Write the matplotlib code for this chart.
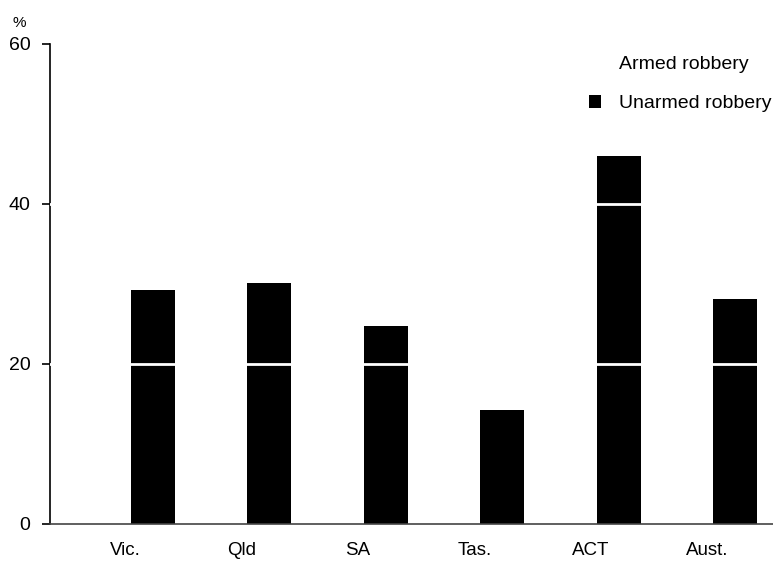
import matplotlib
matplotlib.use("Agg")
import matplotlib.pyplot as plt
from matplotlib.patches import Patch
import numpy as np

plt.rcParams['font.family'] = ['Liberation Sans', 'DejaVu Sans']

categories = ["Vic.", "Qld", "SA", "Tas.", "ACT", "Aust."]
armed = [35.0, 35.8, 24.5, 35.2, 38.0, 35.8]
unarmed = [29.3, 30.1, 24.8, 14.3, 46.0, 28.1]
yticks = [0, 20, 40, 60]

fig = plt.figure(figsize=(7.73, 5.61), dpi=100)
ax = fig.add_axes([50/773, 37/561, 723/773, 480/561])

x = np.arange(len(categories))
w = 44/116.4
ax.bar(x - w/2, armed, width=w, color='white', edgecolor='none', zorder=1, label='Armed robbery')
ax.bar(x + w/2, unarmed, width=w, color='black', edgecolor='none', zorder=2, label='Unarmed robbery')
for yv in [20, 40]:
    ax.axhline(yv, color='white', lw=2, zorder=3)

ax.set_xlim(-0.696, 5.515)
ax.set_ylim(0, 60)
ax.set_yticks(yticks)
ax.set_yticklabels([str(v) for v in yticks], fontsize=14)
ax.set_xticks(x - 0.05)
ax.set_xticklabels(categories, fontsize=13.5)
ax.tick_params(axis='x', length=0, pad=13)
ax.tick_params(axis='y', length=6, width=1.2, direction='out', pad=8)
for s in ['top', 'right']:
    ax.spines[s].set_visible(False)
ax.spines['left'].set_linewidth(1.2)
ax.spines['bottom'].set_linewidth(1.2)
ax.spines['bottom'].set_color('#444444')

ax.text(-0.043, 1.03, '%', transform=ax.transAxes, fontsize=11, ha='center', va='bottom')

handles = [Patch(facecolor='white', edgecolor='none'), Patch(facecolor='black', edgecolor='none')]
ax.legend(handles, ['Armed robbery', 'Unarmed robbery'], loc='upper right',
          bbox_to_anchor=(0.998, 0.975), frameon=False, fontsize=14, borderpad=0,
          borderaxespad=0,
          handlelength=0.6, handleheight=0.6, handletextpad=0.95, labelspacing=1.15)

fig.savefig("out.png", dpi=100)
